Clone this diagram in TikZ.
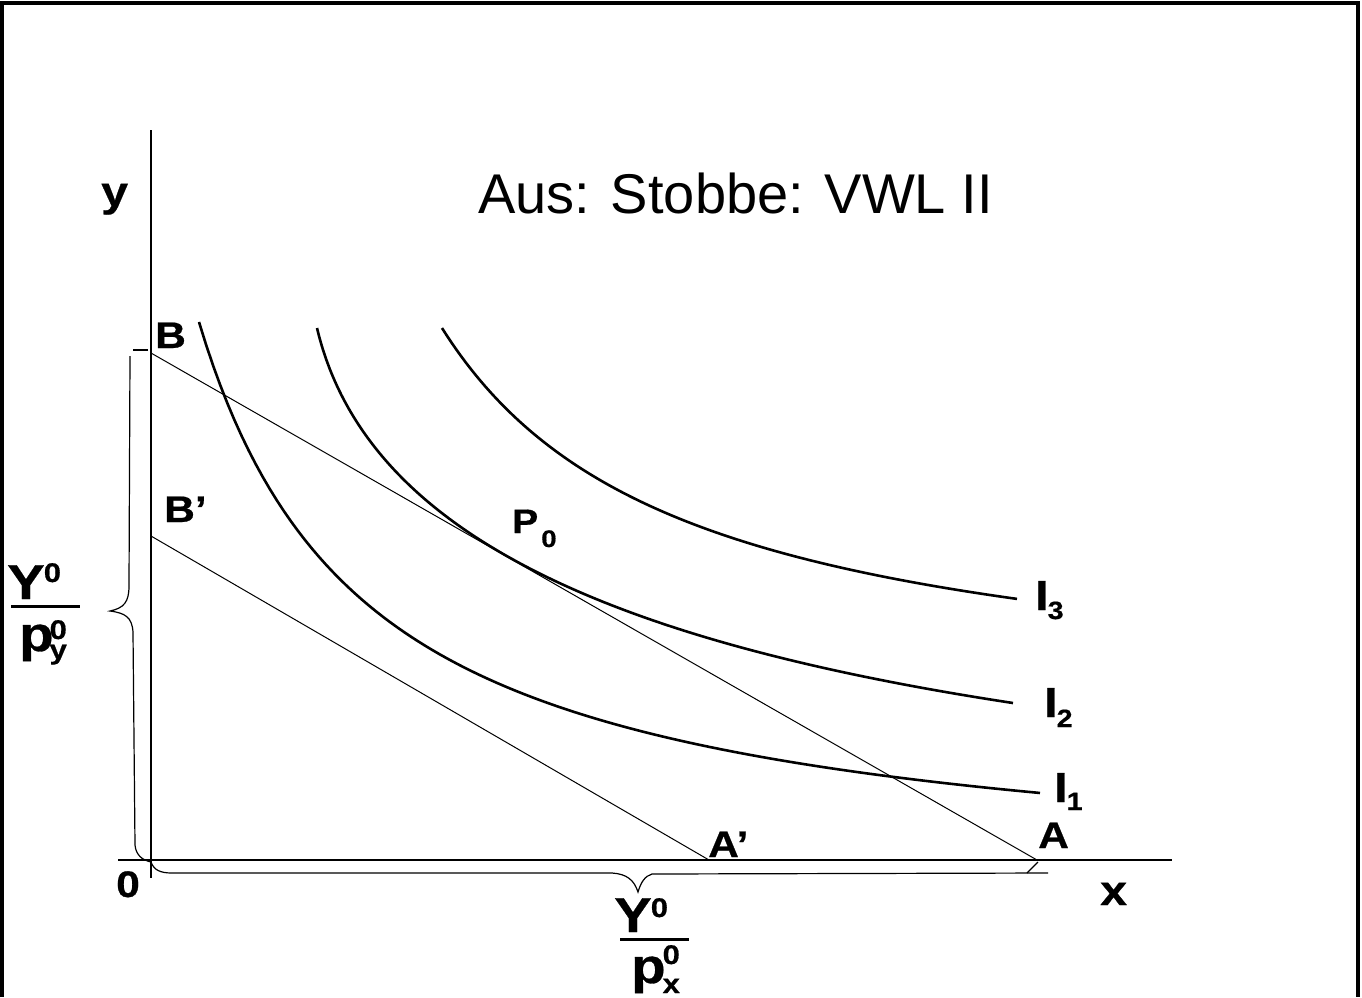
\documentclass[tikz,border=0pt]{standalone}
\usepackage{fontspec}
\setmainfont{Liberation Sans}
\newfontfamily\lblfont[FakeStretch=1.15,FakeBold=0.6]{Liberation Sans}
\newcommand{\frsfont}{\lblfont\bfseries\fontsize{27}{32}\selectfont}
\newcommand{\isubfont}{\lblfont\bfseries\fontsize{25}{30}\selectfont}
\newcommand{\psubfont}{\lblfont\bfseries\fontsize{24}{28}\selectfont}
\begin{document}
\begin{tikzpicture}[x=1pt,y=-1pt,
  frame/.style={line width=3.5pt},
  axis/.style={line width=2pt},
  icurve/.style={line width=2.6pt},
  budget/.style={line width=1pt},
  bracket/.style={line width=1.2pt},
  lbl/.style={inner sep=0pt, anchor=base west, font=\lblfont\fontsize{37}{42}\selectfont\bfseries},
  ilbl/.style={lbl, font=\lblfont\fontsize{42}{48}\selectfont\bfseries},
  axlbl/.style={lbl, font=\lblfont\fontsize{42}{48}\selectfont\bfseries},
  fr/.style={lbl, font=\lblfont\fontsize{49}{56}\selectfont\bfseries},
  title/.style={inner sep=0pt, anchor=base west, font=\fontsize{56}{62}\selectfont}]
\useasboundingbox (0,0) rectangle (1362,997);
% frame
\draw[frame] (2,997) -- (2,3) -- (1358,3) -- (1358,997);
% axes
\coordinate (ytop) at (151,130);
\coordinate (ybot) at (151,878);
\coordinate (xleft) at (118,860);
\coordinate (xright) at (1172,860);
\draw[axis] (ytop) -- (ybot);
\draw[axis] (xleft) -- (xright);
% budget lines
\coordinate (Bp) at (151,353);
\coordinate (Ap) at (1037,860);
\coordinate (B2p) at (151,536);
\coordinate (A2p) at (709,860);
\draw[budget] (Bp) -- (Ap);
\draw[budget] (B2p) -- (A2p);
% indifference curves
\draw[icurve] plot[domain=199:1040, samples=120] (\x, {887.6 - 955.88/((\x-30)/100)});
\coordinate (I2s) at (317,328);
\coordinate (I2e) at (1013,703);
\draw[icurve] (I2s) .. controls (365,530) and (600,640) .. (I2e);
\draw[icurve] plot[domain=442:1017, samples=120] (\x, {712.9 - 931.37/((\x-200)/100)});
% vertical brace
\draw[bracket] (148,350) -- (133,350);
\draw[bracket] (130,356) -- (129,586) .. controls (129,602) and (124,608) .. (110,611)
  .. controls (125,613) and (132,617) .. (133,632) -- (135,845)
  .. controls (136,855) and (142,860) .. (151,862);
% horizontal brace
\draw[bracket] (151,862) .. controls (154,870) and (160,873) .. (172,873) -- (612,873)
  .. controls (627,874) and (634,880) .. (638,892)
  .. controls (641,882) and (645,876) .. (652,874) -- (1048,873);
\draw[bracket] (1027,873) -- (1038,862);
% labels
\node[title] (title) at (478,213) {Aus: Stobbe: VWL II};
\node[axlbl] (ylbl) at (101,206) {y};
\node[axlbl] (xlbl) at (1100,905) {x};
\node[lbl] (zero) at (116,897) {0};
\node[lbl] (B) at (155,348) {B};
\node[lbl] (B2) at (164,522) {B’};
\node[lbl] (A) at (1038,848) {A};
\node[lbl] (A2) at (708,857) {A’};
\node[lbl, font=\lblfont\fontsize{34}{40}\selectfont\bfseries] (P) at (512,533)
  {P\kern3pt\raisebox{-14pt}{\psubfont 0}};
\node[ilbl] (I3) at (1035,610) {I\kern-1pt\raisebox{-9pt}{\isubfont 3}};
\node[ilbl] (I2) at (1044,717) {I\kern-1pt\raisebox{-10pt}{\isubfont 2}};
\node[ilbl] (I1) at (1054,802) {I\kern-1pt\raisebox{-8pt}{\isubfont 1}};
% left fraction
\node[fr] (Yl) at (7,599) {Y\kern-1pt\raisebox{17pt}{\frsfont 0}};
\draw[line width=3pt] (11,606) -- (80,606);
\node[fr] (pl) at (19,651)
  {p\kern-4pt\makebox[0pt][l]{\raisebox{12pt}{\frsfont 0}}\raisebox{-8pt}{\frsfont y}};
% bottom fraction
\node[fr] (Yb) at (614,932) {Y\kern-1pt\raisebox{15pt}{\frsfont 0}};
\draw[line width=3pt] (620,939) -- (689,939);
\node[fr] (pb) at (631,983)
  {p\kern-3pt\makebox[0pt][l]{\raisebox{19pt}{\frsfont 0}}\raisebox{-10pt}{\frsfont x}};
\end{tikzpicture}
\end{document}
